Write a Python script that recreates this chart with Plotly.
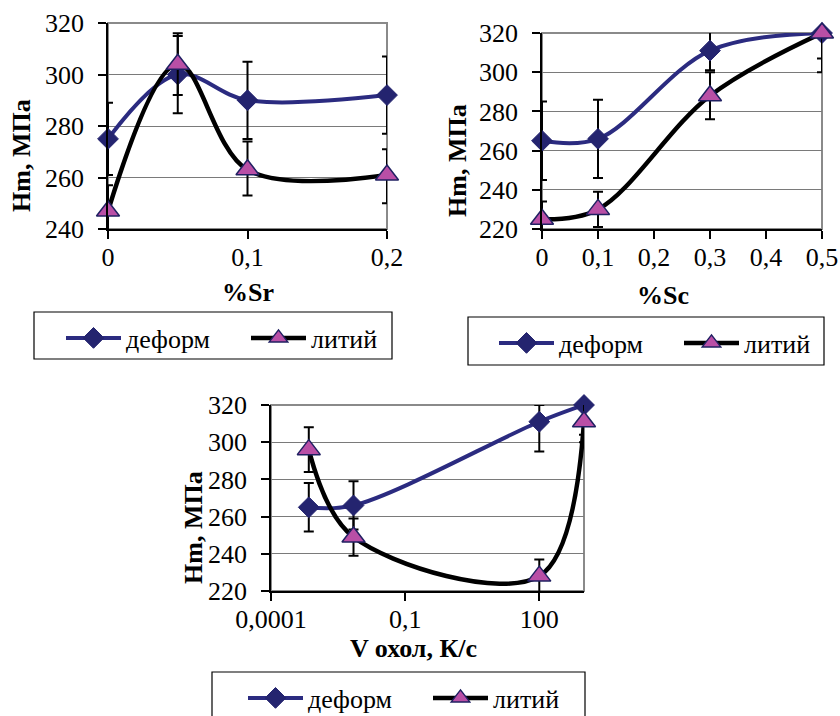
import plotly.graph_objects as go

FONT = "Liberation Serif, Times New Roman, Times, serif"
W, H = 840, 716

# ---------------- data ----------------
series_names = ["деформ", "литий"]

sr_x = [0, 0.05, 0.1, 0.2]
sr_deform = [275, 300, 290, 292]
sr_deform_plus = [14, 16, 15, 15]
sr_deform_minus = [14, 15, 15, 15]
sr_lit = [247, 304, 263, 261]
sr_lit_plus = [10, 11, 11, 10]
sr_lit_minus = [10, 12, 10, 11]
sr_tickvals = [0, 0.1, 0.2]
sr_ticktext = ["0", "0,1", "0,2"]

sc_x = [0, 0.1, 0.3, 0.5]
sc_deform = [265, 266, 311, 320]
sc_deform_plus = [20, 20, 10, 13]
sc_deform_minus = [20, 20, 10, 13]
sc_lit = [225, 230, 288, 320]
sc_lit_plus = [9, 9, 12, 20]
sc_lit_minus = [9, 9, 12, 20]
sc_tickvals = [0, 0.1, 0.2, 0.3, 0.4, 0.5]
sc_ticktext = ["0", "0,1", "0,2", "0,3", "0,4", "0,5"]

cool_x = [0.0007, 0.007, 100, 1000]
cool_deform = [265, 266, 311, 320]
cool_deform_plus = [13, 13, 9, 16]
cool_deform_minus = [13, 13, 16, 16]
cool_lit = [296, 249, 228, 311]
cool_lit_plus = [12, 10, 9, 11]
cool_lit_minus = [12, 10, 9, 11]
cool_tickvals = [0.0001, 0.1, 100]
cool_ticktext = ["0,0001", "0,1", "100"]

y_ticks_a = [240, 260, 280, 300, 320]
y_ticks_b = [220, 240, 260, 280, 300, 320]

# ---------------- styles ----------------
DEF_LINE = "#2b2b80"
DEF_MARK = "#24246f"
LIT_LINE = "#000000"
LIT_MARK = "#b94fa6"
LIT_EDGE = "#202062"

def px_x(p):
    return p / W

def px_y(p):
    return 1 - p / H

fig = go.Figure()

panels = [
    (sr_x, sr_deform, sr_deform_plus, sr_deform_minus, sr_lit, sr_lit_plus, sr_lit_minus, "x", "y", "legend"),
    (sc_x, sc_deform, sc_deform_plus, sc_deform_minus, sc_lit, sc_lit_plus, sc_lit_minus, "x2", "y2", "legend2"),
    (cool_x, cool_deform, cool_deform_plus, cool_deform_minus, cool_lit, cool_lit_plus, cool_lit_minus, "x3", "y3", "legend3"),
]

for xs, dv, dp, dm, lv, lp, lm, xa, ya, lg in panels:
    fig.add_trace(go.Scatter(
        x=xs, y=dv, name=series_names[0], xaxis=xa, yaxis=ya, legend=lg,
        mode="lines+markers", cliponaxis=False,
        line=dict(color=DEF_LINE, width=4, shape="spline", smoothing=1),
        marker=dict(symbol="diamond", size=16, color=DEF_MARK,
                    line=dict(color=DEF_MARK, width=1)),
        error_y=dict(type="data", array=dp, arrayminus=dm, symmetric=False,
                     color="black", thickness=2, width=5),
    ))
    fig.add_trace(go.Scatter(
        x=xs, y=lv, name=series_names[1], xaxis=xa, yaxis=ya, legend=lg,
        mode="lines+markers", cliponaxis=False,
        line=dict(color=LIT_LINE, width=4.5, shape="spline", smoothing=1),
        marker=dict(symbol="triangle-up", size=20, color=LIT_MARK,
                    line=dict(color=LIT_EDGE, width=1.5)),
        error_y=dict(type="data", array=lp, arrayminus=lm, symmetric=False,
                     color="black", thickness=2, width=5),
    ))

tickfont = dict(family=FONT, size=26, color="black")

def yaxis_style(domain, rng, tickvals, anchor):
    return dict(domain=domain, range=rng, anchor=anchor, tickmode="array",
                tickvals=tickvals, ticktext=[str(v) for v in tickvals],
                showline=True, linecolor="black", linewidth=1.5,
                ticks="outside", ticklen=8, tickwidth=1.5, tickcolor="black",
                showgrid=True, gridcolor="#7a7a7a", gridwidth=1,
                zeroline=False, tickfont=tickfont, ticklabelstandoff=9,
                automargin=False, fixedrange=True)

def xaxis_style(domain, rng, tickvals, ticktext, anchor, typ="linear"):
    return dict(domain=domain, range=rng, anchor=anchor, type=typ,
                tickmode="array", tickvals=tickvals, ticktext=ticktext,
                showline=True, linecolor="black", linewidth=1.5,
                ticks="outside", ticklen=8, tickwidth=1.5, tickcolor="black",
                showgrid=False, zeroline=False, tickfont=tickfont,
                ticklabelstandoff=-4, automargin=False, fixedrange=True)

layout = dict(
    width=W, height=H, margin=dict(l=0, r=0, t=0, b=0, autoexpand=False),
    paper_bgcolor="white", plot_bgcolor="white",
    font=dict(family=FONT, size=26, color="black"),
    separators=", ",
    xaxis=xaxis_style([px_x(108), px_x(387)], [0, 0.2], sr_tickvals, sr_ticktext, "y"),
    yaxis=yaxis_style([px_y(229), px_y(23)], [240, 320], y_ticks_a, "x"),
    xaxis2=xaxis_style([px_x(542), px_x(822)], [0, 0.5], sc_tickvals, sc_ticktext, "y2"),
    yaxis2=yaxis_style([px_y(229), px_y(33)], [220, 320], y_ticks_b, "x2"),
    xaxis3=xaxis_style([px_x(271), px_x(584)], [-4, 3], cool_tickvals, cool_ticktext, "y3", "log"),
    yaxis3=yaxis_style([px_y(591), px_y(405)], [220, 320], y_ticks_b, "x3"),
)

legend_common = dict(orientation="h", bgcolor="rgba(0,0,0,0)", borderwidth=0,
                     font=dict(family=FONT, size=26, color="black"),
                     itemwidth=55, xanchor="left", yanchor="middle",
                     entrywidth=115, tracegroupgap=0)
layout["legend"] = dict(legend_common, x=px_x(61), y=px_y(338))
layout["legend2"] = dict(legend_common, x=px_x(494), y=px_y(343))
layout["legend3"] = dict(legend_common, x=px_x(243), y=px_y(698))

fig.update_layout(**layout)

# plot-area borders (gray, top & right) and legend boxes
shapes = []
for xa, ya in [("x", "y"), ("x2", "y2"), ("x3", "y3")]:
    shapes.append(dict(type="rect", xref=f"{xa} domain", yref=f"{ya} domain",
                       x0=0, x1=1, y0=0, y1=1, line=dict(color="#8a8a8a", width=2),
                       layer="below"))
for x0, x1, y0, y1 in [(34, 392, 312, 359), (468, 824, 317, 365), (212, 585, 672, 725)]:
    shapes.append(dict(type="rect", xref="paper", yref="paper",
                       x0=px_x(x0), x1=px_x(x1), y0=px_y(y1), y1=px_y(y0),
                       line=dict(color="black", width=1.2)))
fig.update_layout(shapes=shapes)

# axis titles
titles = [
    ("<b>Hm, МПа</b>", 22, 156, -90),
    ("<b>%Sr</b>", 248, 292, 0),
    ("<b>Hm, МПа</b>", 457, 160, -90),
    ("<b>%Sc</b>", 663, 295, 0),
    ("<b>Hm, МПа</b>", 193, 528, -90),
    ("<b>V охол, К/с</b>", 413, 648, 0),
]
for txt, cx, cy, ang in titles:
    fig.add_annotation(text=txt, x=px_x(cx), y=px_y(cy), xref="paper", yref="paper",
                       showarrow=False, textangle=ang, xanchor="center", yanchor="middle",
                       font=dict(family=FONT, size=26, color="black"))

fig.write_html("out.html")
